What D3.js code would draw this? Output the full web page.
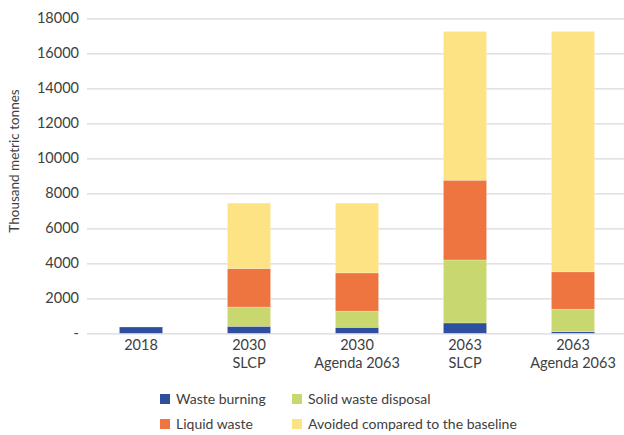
<!DOCTYPE html>
<html>
<head>
<meta charset="utf-8">
<script src="https://cdn.jsdelivr.net/npm/d3@7"></script>
<style>
  body { margin: 0; background: #fff; }
  text { font-family: Lato, "Open Sans", sans-serif; fill: #404040; }
</style>
</head>
<body>
<script>
// chart size
const width = 624, height = 435;
const margin = { top: 18.3, right: 0, bottom: 101.7, left: 87 };

// data (thousand metric tonnes)
const categories = ["2018", "2030 SLCP", "2030 Agenda 2063", "2063 SLCP", "2063 Agenda 2063"];
const catLines = [["2018"], ["2030", "SLCP"], ["2030", "Agenda 2063"], ["2063", "SLCP"], ["2063", "Agenda 2063"]];
const wasteBurning = [360, 400, 340, 590, 90];
const solidWaste = [0, 1100, 930, 3600, 1290];
const liquidWaste = [0, 2200, 2180, 4560, 2130];
const avoided = [0, 3740, 3990, 8500, 13740];
const seriesNames = ["Waste burning", "Solid waste disposal", "Liquid waste", "Avoided compared to the baseline"];
const seriesColors = ["#2e4f9e", "#c8d86e", "#ee7440", "#fde383"];
const yTicks = [0, 2000, 4000, 6000, 8000, 10000, 12000, 14000, 16000, 18000];

const svg = d3.select("body").append("svg")
  .attr("width", width)
  .attr("height", height);

// build table for the stack
const table = categories.map((c, i) => ({
  cat: c,
  "Waste burning": wasteBurning[i],
  "Solid waste disposal": solidWaste[i],
  "Liquid waste": liquidWaste[i],
  "Avoided compared to the baseline": avoided[i]
}));
const stacked = d3.stack().keys(seriesNames)(table);

// scales
const x = d3.scaleBand()
  .domain(categories)
  .range([margin.left, 627])
  .paddingInner(0.6)
  .paddingOuter(0.3);

const y = d3.scaleLinear()
  .domain([0, 18000])
  .range([height - margin.bottom, margin.top]);

const color = d3.scaleOrdinal().domain(seriesNames).range(seriesColors);

// gridlines + y labels
const yAxis = svg.append("g")
  .attr("transform", `translate(${margin.left},0)`)
  .call(d3.axisLeft(y).tickValues(yTicks).tickSize(-(width - margin.left)).tickPadding(8)
    .tickFormat(d => d === 0 ? "-" : d3.format("d")(d)));
yAxis.select(".domain").remove();
yAxis.selectAll(".tick line").attr("stroke", "#d9d9d9").attr("stroke-width", 1.2);
yAxis.selectAll(".tick text").style("font-size", "14.5px");

// bars
svg.append("g").selectAll("g")
  .data(stacked)
  .join("g")
  .attr("fill", d => color(d.key))
  .selectAll("rect")
  .data(d => d)
  .join("rect")
  .attr("x", d => x(d.data.cat))
  .attr("y", d => y(d[1]))
  .attr("width", x.bandwidth())
  .attr("height", d => y(d[0]) - y(d[1]))
  .attr("stroke", "#fff")
  .attr("stroke-width", 0.4)
  .attr("stroke-opacity", d => d[1] > d[0] ? 0.6 : 0);

// x labels (two lines)
const xl = svg.append("g");
categories.forEach((c, i) => {
  const t = xl.append("text")
    .attr("text-anchor", "middle")
    .style("font-size", "14.5px")
    .attr("x", x(c) + x.bandwidth() / 2)
    .attr("y", 350);
  catLines[i].forEach((line, j) => {
    t.append("tspan")
      .attr("x", x(c) + x.bandwidth() / 2)
      .attr("dy", j === 0 ? 0 : 18)
      .text(line);
  });
});

// y axis title
svg.append("text")
  .attr("transform", "translate(19,161) rotate(-90)")
  .attr("text-anchor", "middle")
  .style("font-size", "13.5px")
  .text("Thousand metric tonnes");

// legend
const legendPos = [[160, 399], [292, 399], [160, 424], [292, 424]];
const legendOrder = ["Waste burning", "Solid waste disposal", "Liquid waste", "Avoided compared to the baseline"];
const legend = svg.append("g");
legendOrder.forEach((name, i) => {
  const [lx, ly] = legendPos[i];
  legend.append("rect")
    .attr("x", lx).attr("y", ly - 5)
    .attr("width", 10).attr("height", 10)
    .attr("fill", color(name));
  legend.append("text")
    .attr("x", lx + 16).attr("y", ly + 5)
    .style("font-size", "14px")
    .text(name);
});
</script>
</body>
</html>
